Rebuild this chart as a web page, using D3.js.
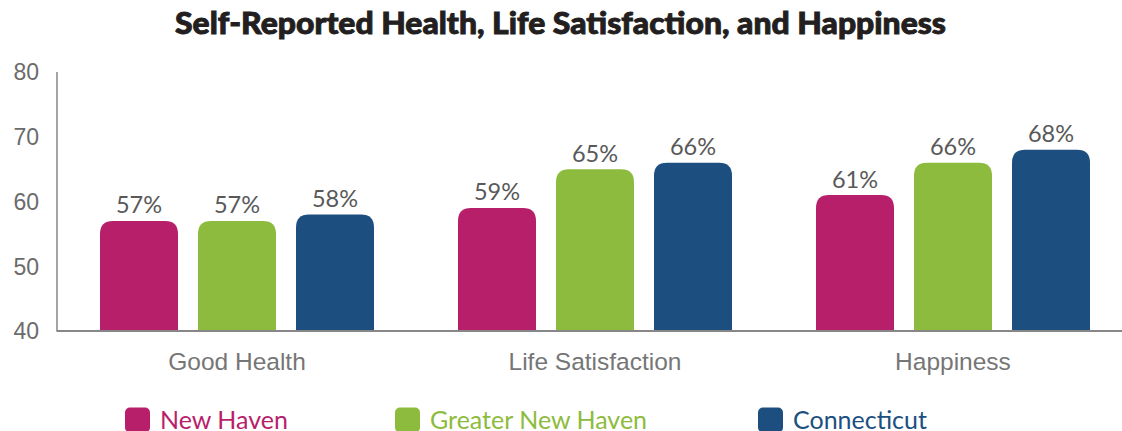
<!DOCTYPE html>
<html>
<head>
<meta charset="utf-8">
<script src="https://cdn.jsdelivr.net/npm/d3@7"></script>
<style>
  html, body { margin: 0; padding: 0; background: #fff; }
  svg { display: block; }
  .tick-label { font-family: "Liberation Sans", Arial, sans-serif; font-size: 23px; fill: #6b6b6b; }
  .cat-label { font-family: "Liberation Sans", Arial, sans-serif; font-size: 24.5px; fill: #767676; }
  .value-label { font-family: Lato, sans-serif; font-size: 23.5px; fill: #595959; }
  .legend-text { font-family: Lato, sans-serif; font-size: 25px; }
  .title { font-family: Lato, sans-serif; font-size: 30px; font-weight: 900; fill: #231f20;
           stroke: #231f20; stroke-width: 0.9px; }
</style>
</head>
<body>
<script>
const categories = ["Good Health", "Life Satisfaction", "Happiness"];
const seriesNames = ["New Haven", "Greater New Haven", "Connecticut"];
const newHaven = [57, 59, 61];
const greaterNewHaven = [57, 65, 66];
const connecticut = [58, 66, 68];
const yTicks = [40, 50, 60, 70, 80];
const colors = ["#b81f6b", "#8dbb3d", "#1c4f7f"];

const seriesValues = [newHaven, greaterNewHaven, connecticut];

const width = 1122, height = 431;
const margin = {left: 58, top: 72, bottom: 331};
const step = 358;

const svg = d3.select("body").append("svg")
  .attr("width", width)
  .attr("height", height);

svg.append("text")
  .attr("class", "title")
  .attr("x", 175)
  .attr("y", 34)
  .attr("textLength", 771)
  .attr("lengthAdjust", "spacingAndGlyphs")
  .text("Self-Reported Health, Life Satisfaction, and Happiness");

const x0 = d3.scaleBand()
  .domain(categories)
  .range([margin.left, margin.left + step * categories.length]);

const x1 = d3.scaleBand()
  .domain(seriesNames)
  .range([0, 274])
  .paddingInner(20 / 98);

const y = d3.scaleLinear()
  .domain([40, 80])
  .range([margin.bottom, margin.top]);

// y tick labels, no tick marks
svg.append("g")
  .selectAll("text")
  .data(yTicks)
  .join("text")
  .attr("class", "tick-label")
  .attr("x", 39)
  .attr("y", d => y(d))
  .attr("dy", "0.36em")
  .attr("text-anchor", "end")
  .text(d => d);

// rounded-top bar path
function barPath(x, yTop, w, h, r) {
  r = Math.min(r, h, w / 2);
  return `M${x},${yTop + h}V${yTop + r}Q${x},${yTop} ${x + r},${yTop}` +
    `H${x + w - r}Q${x + w},${yTop} ${x + w},${yTop + r}V${yTop + h}Z`;
}

const rows = categories.map((c, i) => ({
  cat: c,
  vals: seriesNames.map((s, j) => ({series: s, j, value: seriesValues[j][i]}))
}));

const groups = svg.append("g")
  .selectAll("g")
  .data(rows)
  .join("g")
  .attr("transform", d => `translate(${x0(d.cat) + (x0.bandwidth() - 274) / 2},0)`);

groups.selectAll("path")
  .data(d => d.vals)
  .join("path")
  .attr("d", d => barPath(x1(d.series), y(d.value), x1.bandwidth(), y(40) - y(d.value), 13))
  .attr("fill", d => colors[d.j]);

groups.selectAll("text")
  .data(d => d.vals)
  .join("text")
  .attr("class", "value-label")
  .attr("x", d => x1(d.series) + x1.bandwidth() / 2)
  .attr("y", d => y(d.value) - 7.5)
  .attr("text-anchor", "middle")
  .text(d => d.value + "%");

// axes lines
svg.append("line")
  .attr("x1", 57).attr("x2", 57)
  .attr("y1", y(80)).attr("y2", y(40))
  .attr("stroke", "#878787").attr("stroke-width", 1.5);
svg.append("line")
  .attr("x1", 56.5).attr("x2", width)
  .attr("y1", y(40)).attr("y2", y(40))
  .attr("stroke", "#878787").attr("stroke-width", 2);

// category labels
svg.append("g")
  .selectAll("text")
  .data(categories)
  .join("text")
  .attr("class", "cat-label")
  .attr("x", d => x0(d) + x0.bandwidth() / 2)
  .attr("y", 370)
  .attr("text-anchor", "middle")
  .text(d => d);

// legend
const legendX = [125, 395, 758];
const legend = svg.append("g")
  .selectAll("g")
  .data(seriesNames)
  .join("g")
  .attr("transform", (d, i) => `translate(${legendX[i]},407.5)`);

legend.append("rect")
  .attr("width", 25).attr("height", 25)
  .attr("rx", 5)
  .attr("fill", (d, i) => colors[i]);

legend.append("text")
  .attr("class", "legend-text")
  .attr("x", 35)
  .attr("y", 21.5)
  .attr("fill", (d, i) => colors[i])
  .text(d => d);
</script>
</body>
</html>
